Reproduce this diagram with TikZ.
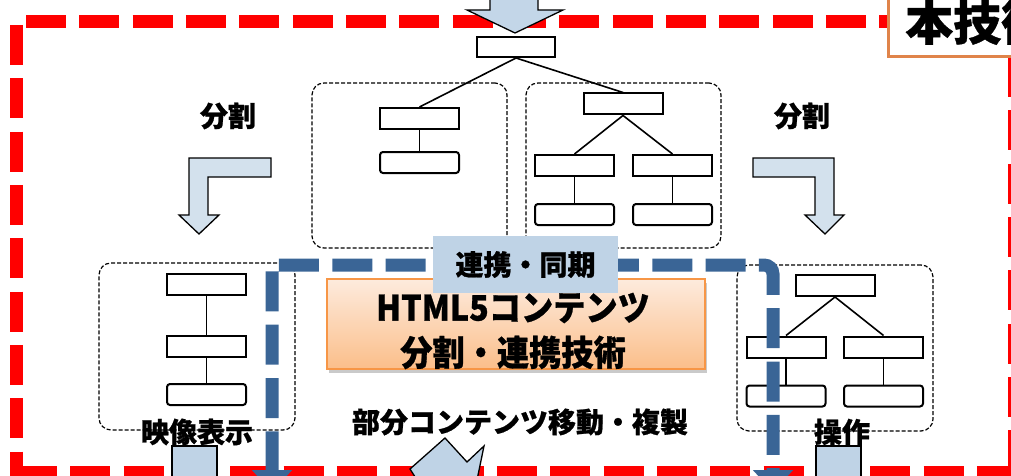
\documentclass[tikz,border=0pt]{standalone}
\usepackage{fontspec}
\setmainfont{Noto Sans CJK JP}
\newfontfamily\heavy{Noto Sans CJK JP}[BoldFeatures={FakeBold=0.8}]
\newfontfamily\heavynarrow{Noto Sans CJK JP}[BoldFeatures={FakeBold=0.8,FakeStretch=0.92}]
\usetikzlibrary{arrows.meta,shadows}
\definecolor{redline}{HTML}{FF0000}
\definecolor{bluedash}{HTML}{3A6596}
\definecolor{lightblue}{HTML}{BFD3E6}
\definecolor{arrowblue}{HTML}{D3E1ED}
\definecolor{toparrow}{HTML}{C3D6E8}
\definecolor{orangeedge}{HTML}{F79646}
\definecolor{orangetop}{HTML}{FDEBDD}
\definecolor{orangebot}{HTML}{FBBE8A}
\definecolor{titleedge}{HTML}{E0844A}
\begin{document}
\begin{tikzpicture}[x=1pt,y=-1pt,
  redborder/.style={draw=redline, line width=13pt, dash pattern=on 40pt off 13.33pt},
  tbox/.style={draw, line width=2pt, fill=white, minimum width=79pt, minimum height=21pt, inner sep=0pt},
  rbox/.style={tbox, rounded corners=3pt},
  group/.style={draw, line width=1.2pt, dash pattern=on 4pt off 2pt, rounded corners=12pt, inner sep=0pt},
  link/.style={line width=1.6pt},
  blockarrow/.style={draw, line width=1.3pt, fill=arrowblue},
  lab/.style={font=\fontsize{28}{30}\selectfont\heavy\bfseries, inner sep=0pt},
  bluepath/.style={draw=bluedash, line width=13pt, dash pattern=on 40pt off 13.33pt},
  shaft/.style={draw, line width=1.3pt, fill=lightblue},
]
\useasboundingbox (0,0) rectangle (1011,476);
\clip (0,0) rectangle (1011,476);

% red dashed border
\draw[redborder] (26,21.5) -- (1011,21.5);
\draw[redborder] (16.5,25) -- (16.5,476);
\draw[redborder] (17,472) -- (1011,472);
\draw[redborder] (1014,57) -- (1014,476);

% top arrow
\draw[blockarrow, fill=toparrow] (490,-5) -- (490,10) -- (467,10) -- (515,33) -- (563,10) -- (538,10) -- (538,-5) -- cycle;

% groups
\node[group, minimum width=195pt, minimum height=165pt] (gL) at (409.5,165.5) {};
\node[group, minimum width=195pt, minimum height=165pt] (gR) at (623.5,165.5) {};
\node[group, minimum width=196pt, minimum height=167pt] (gBL) at (197,346.5) {};
\node[group, minimum width=196pt, minimum height=166pt] (gBR) at (835,348) {};

% top tree
\node[tbox, minimum width=78pt, minimum height=20pt] (root) at (516,47) {};
\node[tbox] (L1) at (419.5,118.5) {};
\node[rbox] (L2) at (419.5,162.5) {};
\node[tbox] (R0) at (623,104) {};
\node[tbox] (R1) at (574.5,165.5) {};
\node[tbox] (R2) at (672.5,165.5) {};
\node[rbox] (R3) at (574.5,214.5) {};
\node[rbox] (R4) at (672.5,214.5) {};
\draw[link] (root.south) -- (L1.north);
\draw[link] (root.south) -- (R0.north);
\draw[link] (L1.south) -- (L2.north);
\draw[link] (R0.south) -- (R1.north);
\draw[link] (R0.south) -- (R2.north);
\draw[link] (R1.south) -- (R3.north);
\draw[link] (R2.south) -- (R4.north);

% bottom-left tree
\node[tbox] (B1) at (206.5,284) {};
\node[tbox] (B2) at (206.5,346) {};
\node[rbox] (B3) at (206.5,394.5) {};
\draw[link] (B1.south) -- (B2.north);
\draw[link] (B2.south) -- (B3.north);

% bottom-right tree
\node[tbox] (C0) at (835,285.5) {};
\node[tbox] (C1) at (786,347) {};
\node[tbox] (C2) at (883.5,347) {};
\node[rbox] (C3) at (786,396) {};
\node[rbox] (C4) at (883.5,396) {};
\draw[link] (C0.south) -- (C1.north);
\draw[link] (C0.south) -- (C2.north);
\draw[link] (C1.south) -- (C3.north);
\draw[link] (C2.south) -- (C4.north);

% bent arrows
\draw[blockarrow] (271,158) -- (189,158) -- (189,215) -- (179,215) -- (199,234) -- (219,215) -- (208,215) -- (208,177) -- (271,177) -- cycle;
\draw[blockarrow] (753,158) -- (834,158) -- (834,215) -- (844,215) -- (825,234) -- (805,215) -- (815,215) -- (815,177) -- (753,177) -- cycle;

% labels
\node[lab] (splitL) at (228,116) {分割};
\node[lab] (splitR) at (802,116) {分割};

% HTML5 box
\node[draw=orangeedge, line width=1.5pt, top color=orangetop, bottom color=orangebot,
      drop shadow={shadow xshift=2pt, shadow yshift=-4pt, opacity=0.35, fill=black!60},
      minimum width=378pt, minimum height=90pt, inner sep=0pt] (tech) at (516,324) {};
\node[align=center, inner sep=0pt, font=\fontsize{35}{45}\selectfont\heavynarrow\bfseries] (techtext) at (513,331) {HTML5コンテンツ\\分割・連携技術};

% blue dashed sync path
\coordinate (pL) at (272,492);
\coordinate (pLc) at (272,265);
\coordinate (pRc) at (773,265);
\coordinate (pR) at (773,492);
\draw[bluepath, {Triangle[width=39pt,length=22pt]}-{Triangle[width=39pt,length=22pt]}]
  (pL) -- (pLc) [rounded corners=9pt] -- (pRc) -- (pR);

% sync label
\node[lab, fill=lightblue, minimum width=185pt, minimum height=57pt] (sync) at (525.5,264.5) {連携・同期};

% bottom labels
\node[lab] (video) at (197,432) {映像表示};
\node[lab] (op) at (842,432) {操作};
\node[lab] (move) at (520,422) {部分コンテンツ移動・複製};

% bottom shafts
\draw[shaft] (172,446) rectangle (217,490);
\draw[shaft] (816,446) rectangle (861,490);
\draw[shaft] (417,480) -- (410,469) -- (445,438) -- (467,462) -- (484,446) -- (477,480) -- cycle;

% title box
\node[draw=titleedge, line width=3pt, fill=white, anchor=north west, minimum width=160pt, minimum height=70pt,
      inner sep=0pt] (titlebox) at (887,-15) {};
\node[font=\fontsize{48}{50}\selectfont\heavy\bfseries, anchor=west, inner sep=0pt] (title) at (905,22) {本技術};
\end{tikzpicture}
\end{document}
